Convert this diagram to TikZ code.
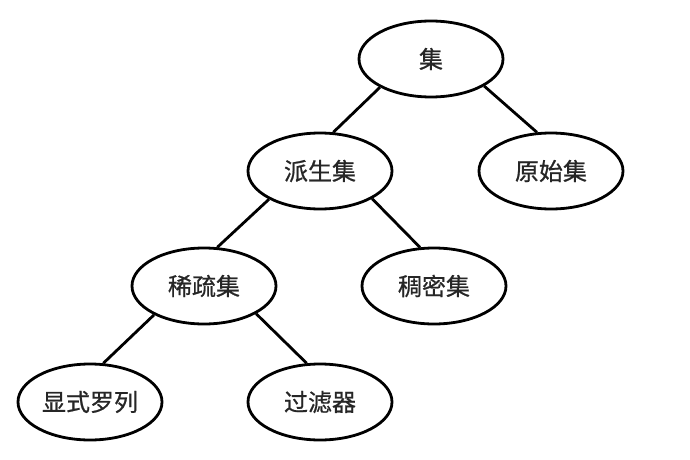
\documentclass[tikz,border=0pt]{standalone}
\usepackage{fontspec}
\newfontfamily\cjk[FakeBold=0.8]{Noto Sans CJK SC}
\usepackage{tikz}
\usetikzlibrary{shapes.geometric,positioning}

\begin{document}
\begin{tikzpicture}[
  every node/.style={font=\cjk\fontsize{12pt}{13pt}\selectfont, text=black!85},
  setnode/.style={
    draw=black, ellipse, line width=1.4pt, inner sep=0pt,
    minimum width=72pt, minimum height=38pt
  },
  treeedge/.style={line width=1.4pt},
  on grid
]
\useasboundingbox (0,0) rectangle (345pt,-230pt);

% --- Top level ---
\node[setnode] (set) at (215.5pt,-29.5pt) {集};

% --- Second level ---
\node[setnode, below left=56pt and 55.5pt of set] (derived) {派生集};
\node[setnode, below right=56pt and 60pt of set] (primitive) {原始集};

% --- Third level ---
\node[setnode, below left=57.5pt and 58pt of derived] (sparse) {稀疏集};
\node[setnode, below right=57.5pt and 57pt of derived] (dense) {稠密集};

% --- Fourth level ---
\node[setnode, below left=58pt and 57pt of sparse] (explicit) {显式罗列};
\node[setnode, below right=58pt and 58pt of sparse] (filter) {过滤器};

% --- Edges ---
\draw[treeedge] (set.209) -- (derived.71);
\draw[treeedge] (set.333) -- (primitive.110);
\draw[treeedge] (derived.209) -- (sparse.71);
\draw[treeedge] (derived.332) -- (dense.110);
\draw[treeedge] (sparse.210) -- (explicit.71);
\draw[treeedge] (sparse.332) -- (filter.109);

\end{tikzpicture}
\end{document}
